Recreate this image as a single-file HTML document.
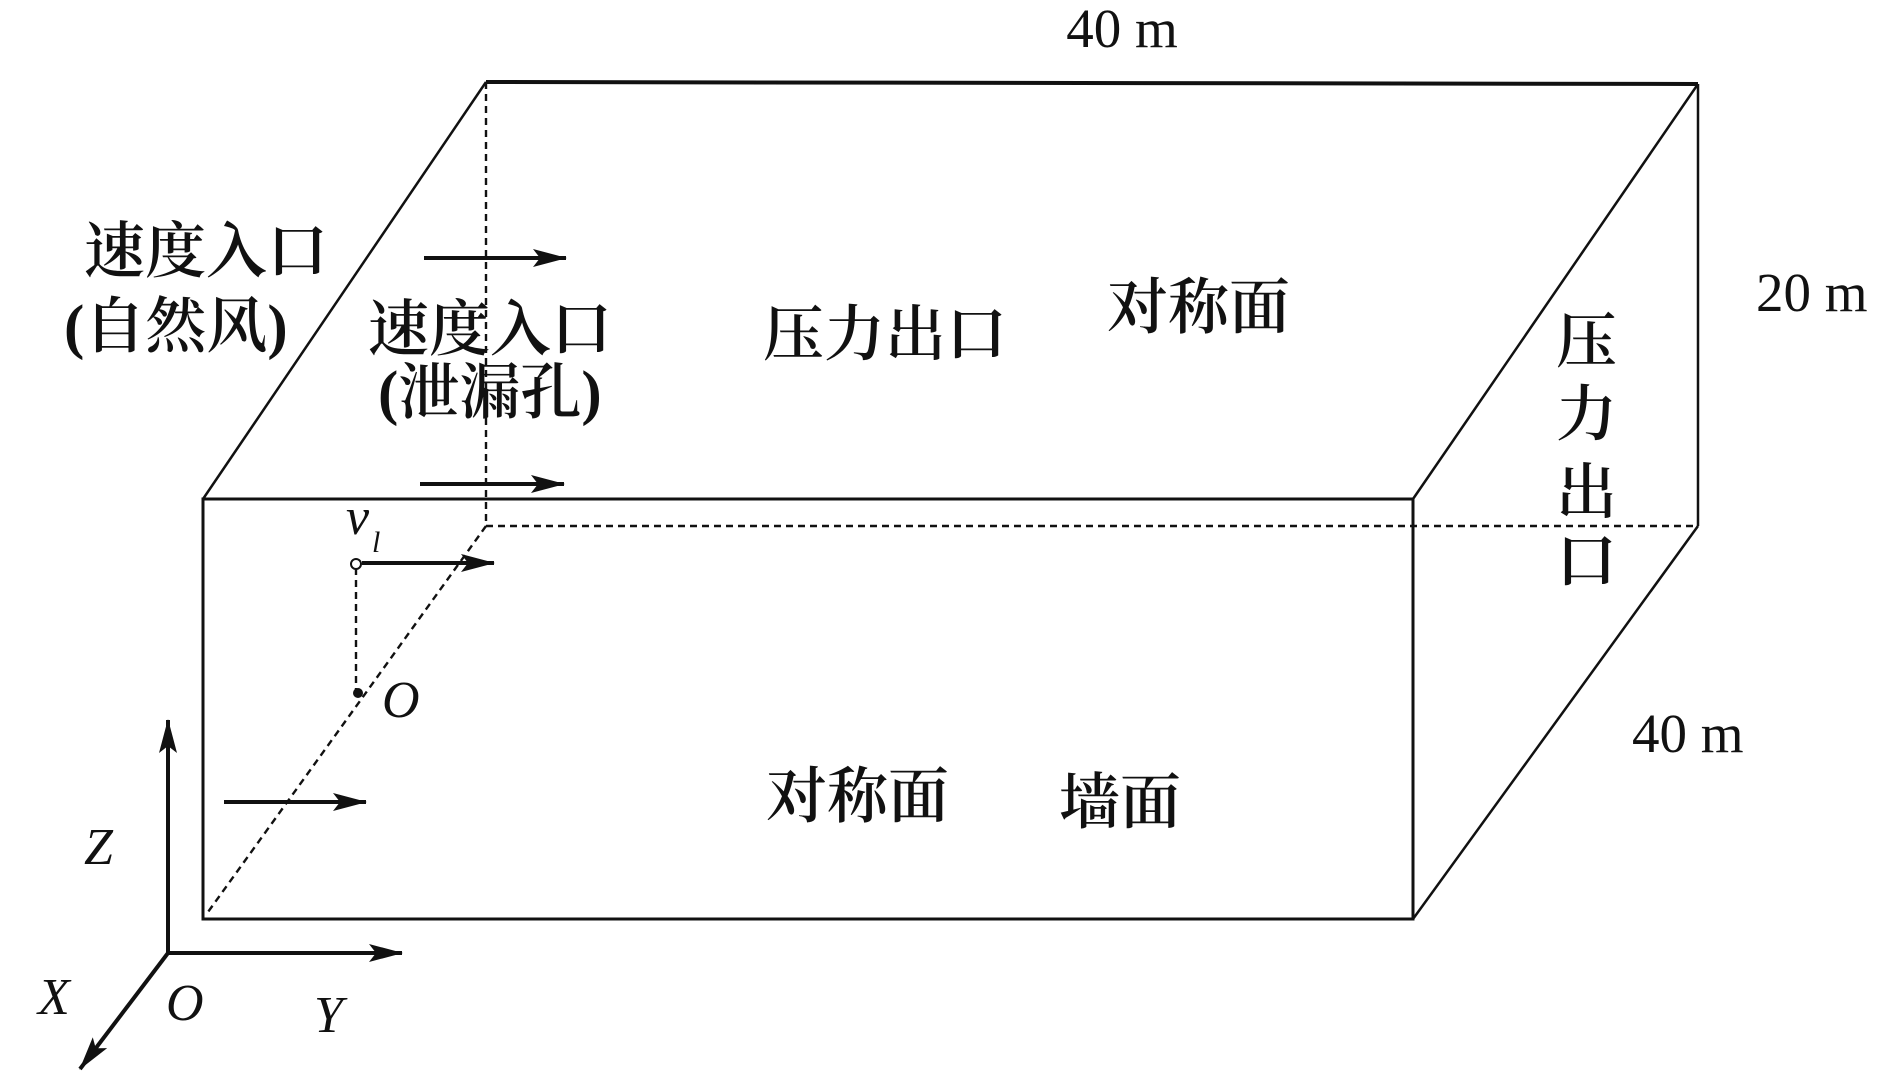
<!DOCTYPE html>
<html><head><meta charset="utf-8"><style>html,body{margin:0;padding:0;background:#fff}svg{display:block}
text{font-family:"Liberation Serif","Noto Serif CJK SC",serif;fill:#111}
.c{font-size:61px;font-weight:600}
.i{font-style:italic;font-size:52px}
.m{font-size:55px}
</style></head><body>
<svg width="1890" height="1087" viewBox="0 0 1890 1087" xmlns="http://www.w3.org/2000/svg">
<defs>
<marker id="b" markerWidth="34" markerHeight="18" refX="33" refY="9" orient="auto" markerUnits="userSpaceOnUse"><path d="M0,0 L34,9 L0,18 L7,9 Z" fill="#111"/></marker></defs>
<g stroke="#111" fill="none" stroke-width="2.5">
<line x1="486" y1="82" x2="1698" y2="84" stroke-width="4"/>
<line x1="486" y1="82" x2="203" y2="499"/>
<line x1="1698" y1="84" x2="1413" y2="499"/>
<line x1="1698" y1="84" x2="1698" y2="526"/>
<line x1="1698" y1="526" x2="1413" y2="919"/>
<rect x="203" y="499" width="1210" height="420" stroke-width="3"/>
<g stroke-dasharray="7,5" stroke-width="2.4">
<line x1="486" y1="82" x2="486" y2="526"/>
<line x1="486" y1="526" x2="1698" y2="526"/>
<line x1="486" y1="526" x2="208" y2="912"/>
<line x1="356" y1="568" x2="356" y2="693"/>
</g>
<g stroke-width="4" marker-end="url(#b)">
<line x1="424" y1="258" x2="566" y2="258"/>
<line x1="420" y1="484" x2="564" y2="484"/>
<line x1="224" y1="802" x2="366" y2="802"/>
<line x1="362" y1="563" x2="494" y2="563"/>
<line x1="168" y1="953" x2="168" y2="720"/>
<line x1="168" y1="953" x2="402" y2="953"/>
<line x1="168" y1="953" x2="80" y2="1069"/>
</g>
<circle cx="356" cy="564" r="5" fill="#fff" stroke-width="2"/>
<circle cx="358" cy="693" r="5" fill="#111" stroke="none"/>
</g>
<text x="1122" y="47" class="m" text-anchor="middle">40 m</text>
<text x="1756" y="311" class="m">20 m</text>
<text x="1632" y="752" class="m">40 m</text>
<g class="c">
<text x="84" y="272">速度入口</text>
<text x="64" y="347">(自然风)</text>
<text x="368" y="350">速度入口</text>
<text x="378" y="413">(泄漏孔)</text>
<text x="763" y="355">压力出口</text>
<text x="1107" y="328">对称面</text>
<text x="1556" y="362">压</text>
<text x="1556" y="435">力</text>
<text x="1556" y="513">出</text>
<text x="1556" y="582">口</text>
<text x="766" y="817">对称面</text>
<text x="1059" y="823">墙面</text>
</g>
<text x="346" y="534" class="i">v</text><text x="372" y="552" class="i" style="font-size:30px">l</text>
<text x="382" y="717" class="i">O</text>
<text x="84" y="864" class="i">Z</text>
<text x="38" y="1014" class="i">X</text>
<text x="166" y="1020" class="i">O</text>
<text x="314" y="1032" class="i">Y</text>
</svg>
</body></html>
